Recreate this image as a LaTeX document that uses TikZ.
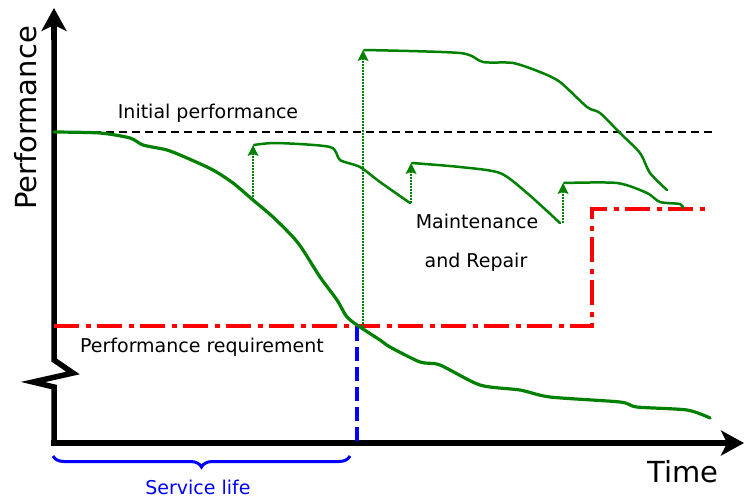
\documentclass[tikz,border=0pt]{standalone}
\usepackage{fontspec}
\setmainfont{DejaVu Sans}
\usetikzlibrary{arrows.meta,decorations.pathreplacing}
\definecolor{curvegreen}{RGB}{0,128,0}
\definecolor{reqred}{RGB}{255,0,0}
\definecolor{lifeblue}{RGB}{0,0,255}
\tikzset{
  axisline/.style={line width=5.5pt, -{Stealth[length=23pt,width=25pt,inset=6pt]}},
  perfcurve/.style={curvegreen, line width=3.2pt, line join=round, line cap=round},
  repaircurve/.style={curvegreen, line width=2.5pt, line join=round, line cap=round},
  repairarrow/.style={curvegreen, line width=2pt, dash pattern=on 1.8pt off 1.2pt, -{Stealth[length=11pt,width=11pt,inset=2pt,line width=0pt]}},
  initline/.style={black, line width=2.5pt, dash pattern=on 8pt off 5pt},
  reqline/.style={reqred, line width=3.4pt, dash pattern=on 25pt off 6.5pt on 5pt off 6.5pt},
  lifeline/.style={lifeblue, line width=3.8pt, dash pattern=on 14pt off 6pt},
  lbl/.style={font=\fontsize{19}{22}\selectfont, anchor=base, inner sep=0pt},
  biglbl/.style={font=\fontsize{29}{33}\selectfont, anchor=base, inner sep=0pt}
}
\begin{document}
\begin{tikzpicture}[x=1pt,y=-1pt]
\useasboundingbox (0,0) rectangle (744,499);
% axes
\coordinate (origin) at (54,443);
\coordinate (ytop) at (54,8);
\coordinate (xend) at (744,443);
\draw[line width=5.5pt, line join=miter] (54,443) -- (54,387) -- (33,382) -- (73,373) -- (54,360) -- (54,30);
\draw[axisline] (54,40) -- (ytop);
\draw[line width=5.5pt] (51.25,443) -- (730,443);
\draw[axisline] (720,443) -- (xend);
\node[biglbl, rotate=90] (ylab) at (36,118) {Performance};
\node[biglbl] (xlab) at (683,482) {Time};
% initial performance
\coordinate (ipstart) at (54,132);
\coordinate (ipend) at (716,132);
\draw[initline] (ipstart) -- (ipend);
\node[lbl] (iplab) at (208,118) {Initial performance};
% requirement
\coordinate (rq1) at (54,326);
\coordinate (rq2) at (592,326);
\coordinate (rq3) at (592,209);
\coordinate (rq4) at (707,209);
\draw[reqline] (rq1) -- (rq2) -- (rq3) -- (rq4);
\node[lbl] (rqlab) at (202,352) {Performance requirement};
% service life
\coordinate (sl) at (357,443);
\coordinate (slTop) at (357,327);
\draw[lifeline] (slTop) -- (sl);
\coordinate (brL) at (53,456);
\coordinate (brR) at (350,456);
\draw[lifeblue, line width=3pt, decorate, decoration={brace, mirror, amplitude=11pt}] (brL) -- (brR);
\node[lbl, text=lifeblue] (sllab) at (198,494) {Service life};
% main performance curve
\draw[perfcurve] plot[smooth, tension=0.45] coordinates {
 (54,132) (100,133) (130,138) (143,145) (167,150) (187,158) (213,170) (233,183) (253,200)
 (273,217) (293,237) (303,250) (320,277) (337,300) (347,317) (360,327) (380,340) (390,347)
 (420,362) (440,365) (480,385) (520,390) (550,397) (620,402) (637,407) (687,410) (710,418)};
% repair points
\coordinate (r1a) at (253,200);
\coordinate (r1b) at (253,145);
\coordinate (r2a) at (411,203);
\coordinate (r2b) at (411,163);
\coordinate (r3a) at (563,223);
\coordinate (r3b) at (563,183);
\coordinate (r4a) at (363,327);
\coordinate (r4b) at (363,50);
\draw[repairarrow] (r1a) -- (r1b);
\draw[repairarrow] (r2a) -- (r2b);
\draw[repairarrow] (r3a) -- (r3b);
\draw[repairarrow] (r4a) -- (r4b);
% repaired curves
\draw[repaircurve] plot[smooth, tension=0.45] coordinates {
 (254,145) (277,143) (330,147) (340,160) (360,167) (380,182) (410,203)};
\draw[repaircurve] plot[smooth, tension=0.45] coordinates {
 (412,163) (460,167) (500,173) (527,193) (560,223)};
\draw[repaircurve] plot[smooth, tension=0.45] coordinates {
 (564,183) (617,183) (647,193) (660,202) (680,204) (683,208)};
\draw[repaircurve] plot[smooth, tension=0.45] coordinates {
 (364,50) (460,53) (483,62) (513,63) (540,72) (560,82) (587,107) (600,113) (620,133)
 (640,153) (650,173) (667,190)};
\node[lbl] (mrlab1) at (477,228) {Maintenance};
\node[lbl] (mrlab2) at (476,267) {and Repair};
\end{tikzpicture}
\end{document}
